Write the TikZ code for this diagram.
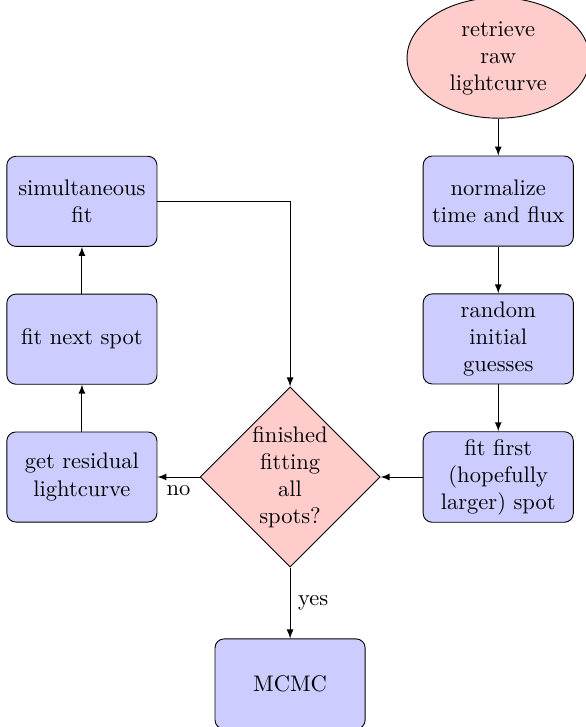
\documentclass[tikz,border=0pt]{standalone}
\usepackage{tikz}
\usetikzlibrary{arrows,shapes,positioning}

\begin{document}
\begin{tikzpicture}[
        block/.style={rectangle, draw, fill=blue!20, text width=6em, text centered, rounded corners, minimum height=4em},
        decision/.style={diamond, draw, fill=red!20, text width=3.5em, text centered, inner sep=0pt},
        start/.style={ellipse, draw, fill=red!20, text width=5em, text centered, minimum width=81pt, minimum height=53.5pt, inner sep=0pt},
        link/.style={draw, -latex}]
                \useasboundingbox (-128.8pt,-111pt) rectangle (131pt,211.8pt);
                \node[decision] (decide) {finished fitting all spots?};
                \node[block, right=18.7pt of decide] (first) {fit first (hopefully larger) spot};
                \node[block, above=20.8pt of first] (rand) {random\\ initial\\ guesses};
                \node[block, above=20.8pt of rand] (norm) {normalize\\ time and flux};
                \node[start, above=16.4pt of norm] (raw) {retrieve\\ raw\\ lightcurve};
                \node[block, left=18.7pt of decide] (resid) {get residual\\ lightcurve};
                \node[block, above=20.8pt of resid] (next) {fit next spot};
                \node[block, above=20.8pt of next] (simul) {simultaneous\\ fit};
                \node[block, below=31.5pt of decide] (mcmc) {MCMC};
                \foreach \a/\b in {raw/norm, norm/rand, rand/first, first/decide, resid/next, next/simul}
                \draw[link] (\a) -- (\b);
                \draw[link] (simul) -| (decide);
                \draw[link] (decide) -- node[below] {no} (resid);
                \draw[link] (decide) -- node[right] {yes} (mcmc);
            \end{tikzpicture}
\end{document}
